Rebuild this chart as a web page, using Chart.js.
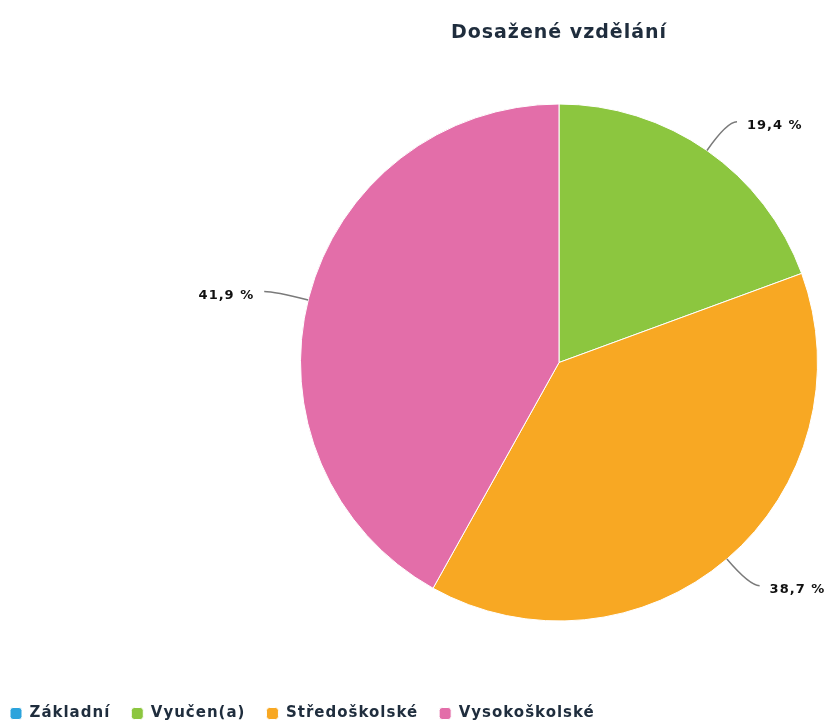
<!DOCTYPE html>
<html lang="cs">
<head>
<meta charset="utf-8">
<title>Dosažené vzdělání</title>
<script src="https://cdn.jsdelivr.net/npm/chart.js@4.4.1/dist/chart.umd.min.js"></script>
<style>
  html, body { margin: 0; padding: 0; background: #fff; }
  #eduChart { display: block; }
</style>
</head>
<body>
<canvas id="eduChart" width="830" height="726"></canvas>
<script>
// ===================== DATA =====================
const categories = ["Základní", "Vyučen(a)", "Středoškolské", "Vysokoškolské"];
const shares = [0, 19.4, 38.7, 41.9];
const sliceColors = ["#2ba3dc", "#8cc63f", "#f8a823", "#e36ea9"];

const textColor = "#1f2d3d";
const fontFamily = "'DejaVu Sans', sans-serif";

// ===================== WIDER TEXT (letter spacing) =====================
const wideText = {
  id: "wideText",
  beforeLayout(chart, args, opts) {
    chart.ctx.letterSpacing = opts.spacing;
  },
  beforeDraw(chart, args, opts) {
    chart.ctx.letterSpacing = opts.spacing;
  }
};

// ===================== DATA LABELS WITH LEADER LINES =====================
const pieLabels = {
  id: "pieLabels",
  afterDatasetsDraw(chart, args, opts) {
    const ctx = chart.ctx;
    const meta = chart.getDatasetMeta(0);
    ctx.save();
    ctx.font = opts.font;
    ctx.textBaseline = "middle";
    meta.data.forEach((arc, i) => {
      const value = chart.data.datasets[0].data[i];
      if (!value) return;
      const { x, y, startAngle, endAngle, outerRadius } =
        arc.getProps(["x", "y", "startAngle", "endAngle", "outerRadius"], true);

      let angle = (startAngle + endAngle) / 2;
      if (opts.angles[i] != null) angle = opts.angles[i] * Math.PI / 180;

      const cos = Math.cos(angle);
      const sin = Math.sin(angle);
      const side = cos >= 0 ? 1 : -1;

      const px = x + outerRadius * cos;
      const py = y + outerRadius * sin;
      const ex = x + (outerRadius + opts.reach) * cos;
      const ey = y + (outerRadius + opts.reach) * sin;
      const hx = ex + side * opts.tail;

      ctx.strokeStyle = opts.lineColor;
      ctx.lineWidth = 1.5;
      ctx.beginPath();
      ctx.moveTo(px, py);
      ctx.quadraticCurveTo(ex, ey, hx, ey);
      ctx.stroke();

      ctx.fillStyle = opts.color;
      ctx.textAlign = side > 0 ? "left" : "right";
      ctx.fillText(value.toFixed(1).replace(".", ",") + " %", hx + side * opts.gap, ey + 4);
    });
    ctx.restore();
  }
};

// ===================== CHART =====================
const ctxEdu = document.getElementById("eduChart").getContext("2d");

new Chart(ctxEdu, {
  type: "pie",
  data: {
    labels: categories,
    datasets: [{
      data: shares,
      backgroundColor: sliceColors,
      borderColor: "#ffffff",
      borderWidth: 1
    }]
  },
  plugins: [wideText, pieLabels],
  options: {
    responsive: false,
    animation: false,
    events: [],
    layout: {
      padding: { top: 0, right: 12, bottom: -5, left: -11 }
    },
    plugins: {
      wideText: { spacing: "1px" },
      title: {
        display: true,
        text: "Dosažené vzdělání",
        position: "top",
        fullSize: false,
        color: textColor,
        font: { family: fontFamily, size: 19, weight: "bold" },
        padding: { top: 22, bottom: 15.2 }
      },
      // empty box on the left, pushes the pie to the right
      subtitle: {
        display: true,
        text: "",
        position: "left",
        fullSize: false,
        font: { size: 10 },
        padding: { top: 0, bottom: 299 }
      },
      legend: {
        position: "bottom",
        align: "start",
        title: {
          display: true,
          text: "",
          font: { size: 12 },
          padding: { top: 0, bottom: 5.6 }
        },
        labels: {
          boxWidth: 12,
          boxHeight: 12,
          useBorderRadius: true,
          borderRadius: 3,
          padding: 21,
          color: textColor,
          font: { family: fontFamily, size: 15, weight: "bold" }
        }
      },
      tooltip: { enabled: false },
      pieLabels: {
        font: "bold 13px 'DejaVu Sans', sans-serif",
        color: "#111111",
        lineColor: "#7a7a7a",
        angles: [null, null, null, -166],
        reach: 35,
        tail: 10,
        gap: 10
      }
    }
  }
});
</script>
</body>
</html>
